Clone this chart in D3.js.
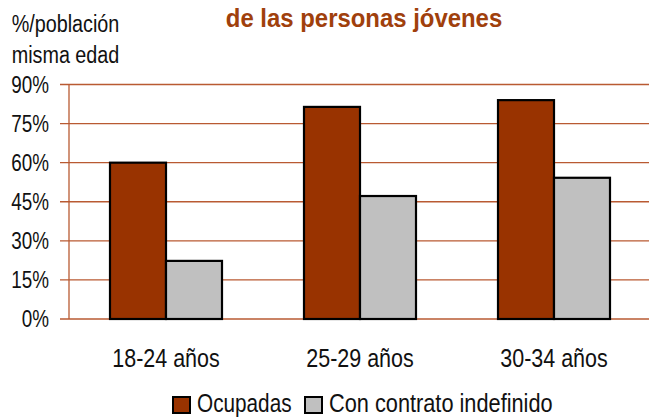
<!DOCTYPE html>
<meta charset="utf-8">
<script src="https://d3js.org/d3.v7.min.js"></script>
<style>
  body { margin: 0; background: #fff; }
  text { font-family: "Liberation Sans", Arial, sans-serif; fill: #111; }
</style>
<body>
<div id="chart"></div>
<script>
// data
var categories = ["18-24 años", "25-29 años", "30-34 años"];
var seriesNames = ["Ocupadas", "Con contrato indefinido"];
var ocupadas = [60, 81.4, 84];
var indefinido = [22.3, 47.2, 54.2];
var yTicks = [0, 15, 30, 45, 60, 75, 90];

var colors = ["#993300", "#C0C0C0"];
var gridColor = "#B95A32";
var narrow = 0.82; // squeeze text to look like Arial Narrow

var W = 649, H = 417;
var margin = {top: 84.5, left: 69};
var width = 651 - margin.left,
    height = 319 - margin.top;

var svg = d3.select("#chart").append("svg")
    .attr("width", W).attr("height", H);

// helper: narrow text placed at (x, y)
function ntext(sel, x, y, str, size, anchor, sx) {
  return sel.append("text")
      .attr("transform", "translate(" + x + "," + y + ") scale(" + (sx || narrow) + ",1)")
      .attr("text-anchor", anchor || "start")
      .style("font-size", size + "px")
      .text(str);
}

// title (first line is off the top)
ntext(svg, 364, 27, "de las personas jóvenes", 26, "middle", 0.92)
    .style("font-weight", "bold").style("fill", "#A0400C");

// y label
ntext(svg, 65.5, 32, "%/población", 23, "middle", 0.86);
ntext(svg, 65.5, 63, "misma edad", 23, "middle", 0.86);

var g = svg.append("g")
    .attr("transform", "translate(" + margin.left + "," + margin.top + ")");

var x = d3.scaleBand().domain(categories).range([0, width]);
var x1 = d3.scaleBand().domain(seriesNames).range([0, 112]);
var y = d3.scaleLinear().domain([0, 90]).range([height, 0]);

// grid lines
g.selectAll(".grid").data(yTicks).enter().append("line")
    .attr("x1", -9).attr("x2", W - margin.left)
    .attr("y1", function(d) { return y(d); })
    .attr("y2", function(d) { return y(d); })
    .attr("stroke", gridColor).attr("stroke-width", 1.3);

// y axis line
g.append("line").attr("x1", 0).attr("x2", 0)
    .attr("y1", 0).attr("y2", height)
    .attr("stroke", gridColor).attr("stroke-width", 1.3);

// tick labels
yTicks.forEach(function(d) {
  ntext(g, -20, y(d) + 8, d + "%", 23, "end");
});

// bars
var groups = g.selectAll(".grp").data(categories).enter().append("g")
    .attr("transform", function(d) { return "translate(" + (x(d) + x.bandwidth() / 2 - 56) + ",0)"; });

groups.selectAll("rect")
    .data(function(d, i) { return [ocupadas[i], indefinido[i]].map(function(v, j) { return {k: seriesNames[j], v: v, c: colors[j]}; }); })
    .enter().append("rect")
    .attr("x", function(d) { return x1(d.k); })
    .attr("y", function(d) { return y(d.v); })
    .attr("width", x1.bandwidth())
    .attr("height", function(d) { return height - y(d.v); })
    .attr("fill", function(d) { return d.c; })
    .attr("stroke", "#000").attr("stroke-width", 2.2);

// category labels
categories.forEach(function(c) {
  ntext(g, x(c) + x.bandwidth() / 2, height + 48, c, 25, "middle", 0.86);
});

// legend
var legX = [173, 305];
seriesNames.forEach(function(n, i) {
  svg.append("rect").attr("x", legX[i]).attr("y", 397)
      .attr("width", 17).attr("height", 16)
      .attr("fill", colors[i]).attr("stroke", "#000").attr("stroke-width", 2);
  ntext(svg, legX[i] + 24, 412, n, 25, "start", i === 0 ? 0.83 : 0.87);
});
</script>
</body>
